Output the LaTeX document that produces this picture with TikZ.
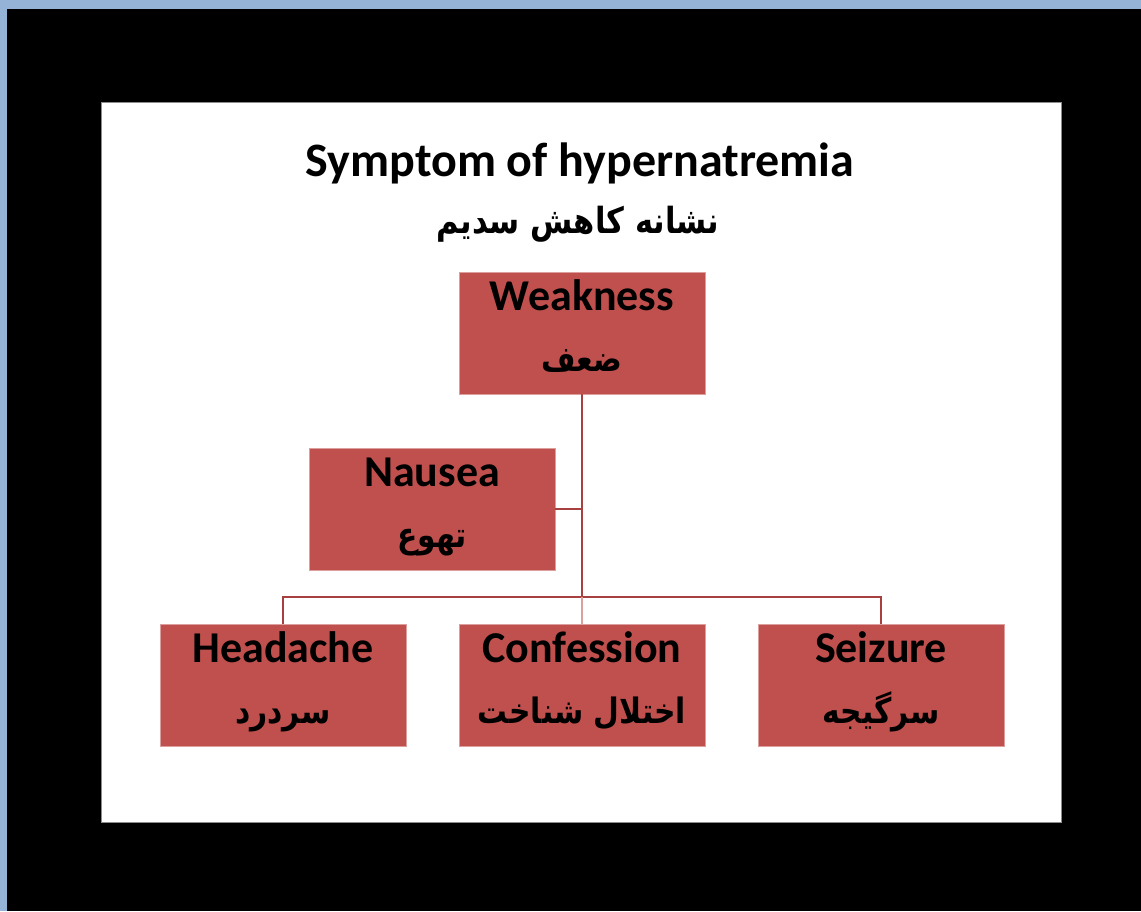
\documentclass[tikz,border=0pt]{standalone}
\usepackage{fontspec}
\setmainfont{Carlito}
\newfontfamily\farsifont[Script=Arabic,FakeStretch=0.85]{DejaVu Sans}
\TeXXeTstate=1
\usetikzlibrary{calc}

\definecolor{frameblue}{HTML}{95B3D7}
\definecolor{boxred}{HTML}{C0504D}
\definecolor{linkred}{HTML}{A8403F}
\definecolor{linkpale}{HTML}{D9A0A0}

% one symptom: red box with an English and a Persian line
\newcommand\symptomnode[5]{%
  \node[symbox] (#1) at (#2,#3) {};
  \node[entext] (#1-en) at (#2,#3-23) {#4};
  \node[fatext] (#1-fa) at (#2,#3+38) {#5};
}

\begin{document}
\begin{tikzpicture}[x=1pt,y=-1pt,
  symbox/.style={rectangle, fill=boxred, draw=boxred!55!white, line width=0.8pt,
    minimum width=246pt, minimum height=122pt, inner sep=0pt, outer sep=0pt},
  entext/.style={anchor=base, inner sep=0pt, font=\fontsize{44}{50}\selectfont\bfseries},
  fatext/.style={anchor=base, inner sep=0pt, font=\farsifont\fontsize{35}{40}\selectfont\bfseries},
  link/.style={draw=linkred, line width=2pt},
]
\useasboundingbox (0,0) rectangle (1141,911);
% frame and panel
\fill[black] (0,0) rectangle (1141,911);
\fill[frameblue] (0,0) rectangle (1141,9);
\fill[frameblue] (0,0) rectangle (7,911);
\fill[white, draw=black!45, line width=0.8pt] (101,102) rectangle (1061,822);

% heading
\node[anchor=base, inner sep=0pt, font=\fontsize{48}{56}\selectfont\bfseries] (title) at (580,176) {Symptom of hypernatremia};
\node[anchor=base, inner sep=0pt, font=\farsifont\fontsize{36}{42}\selectfont\bfseries] (titlefa) at (578,233) {\beginR نشانه کاهش سدیم\endR};

% connectors
\coordinate (hub) at (582,597);
\coordinate (nhub) at (582,509);

% boxes
\symptomnode{weak}{582}{333}{Weakness}{\beginR ضعف\endR}
\symptomnode{nausea}{432}{509}{Nausea}{\beginR تهوع\endR}
\symptomnode{head}{283}{685}{Headache}{\beginR سردرد\endR}
\symptomnode{conf}{582}{685}{Confession}{\beginR اختلال شناخت\endR}
\symptomnode{seiz}{881}{685}{Seizure}{\beginR سرگیجه\endR}

\draw[link] (weak.south) -- (hub);
\draw[link] (nausea.east) -- (nhub);
\draw[link] (head.north) |- (hub) -| (seiz.north);
\draw[link, draw=linkpale] (hub) -- (conf.north);
\end{tikzpicture}
\end{document}
